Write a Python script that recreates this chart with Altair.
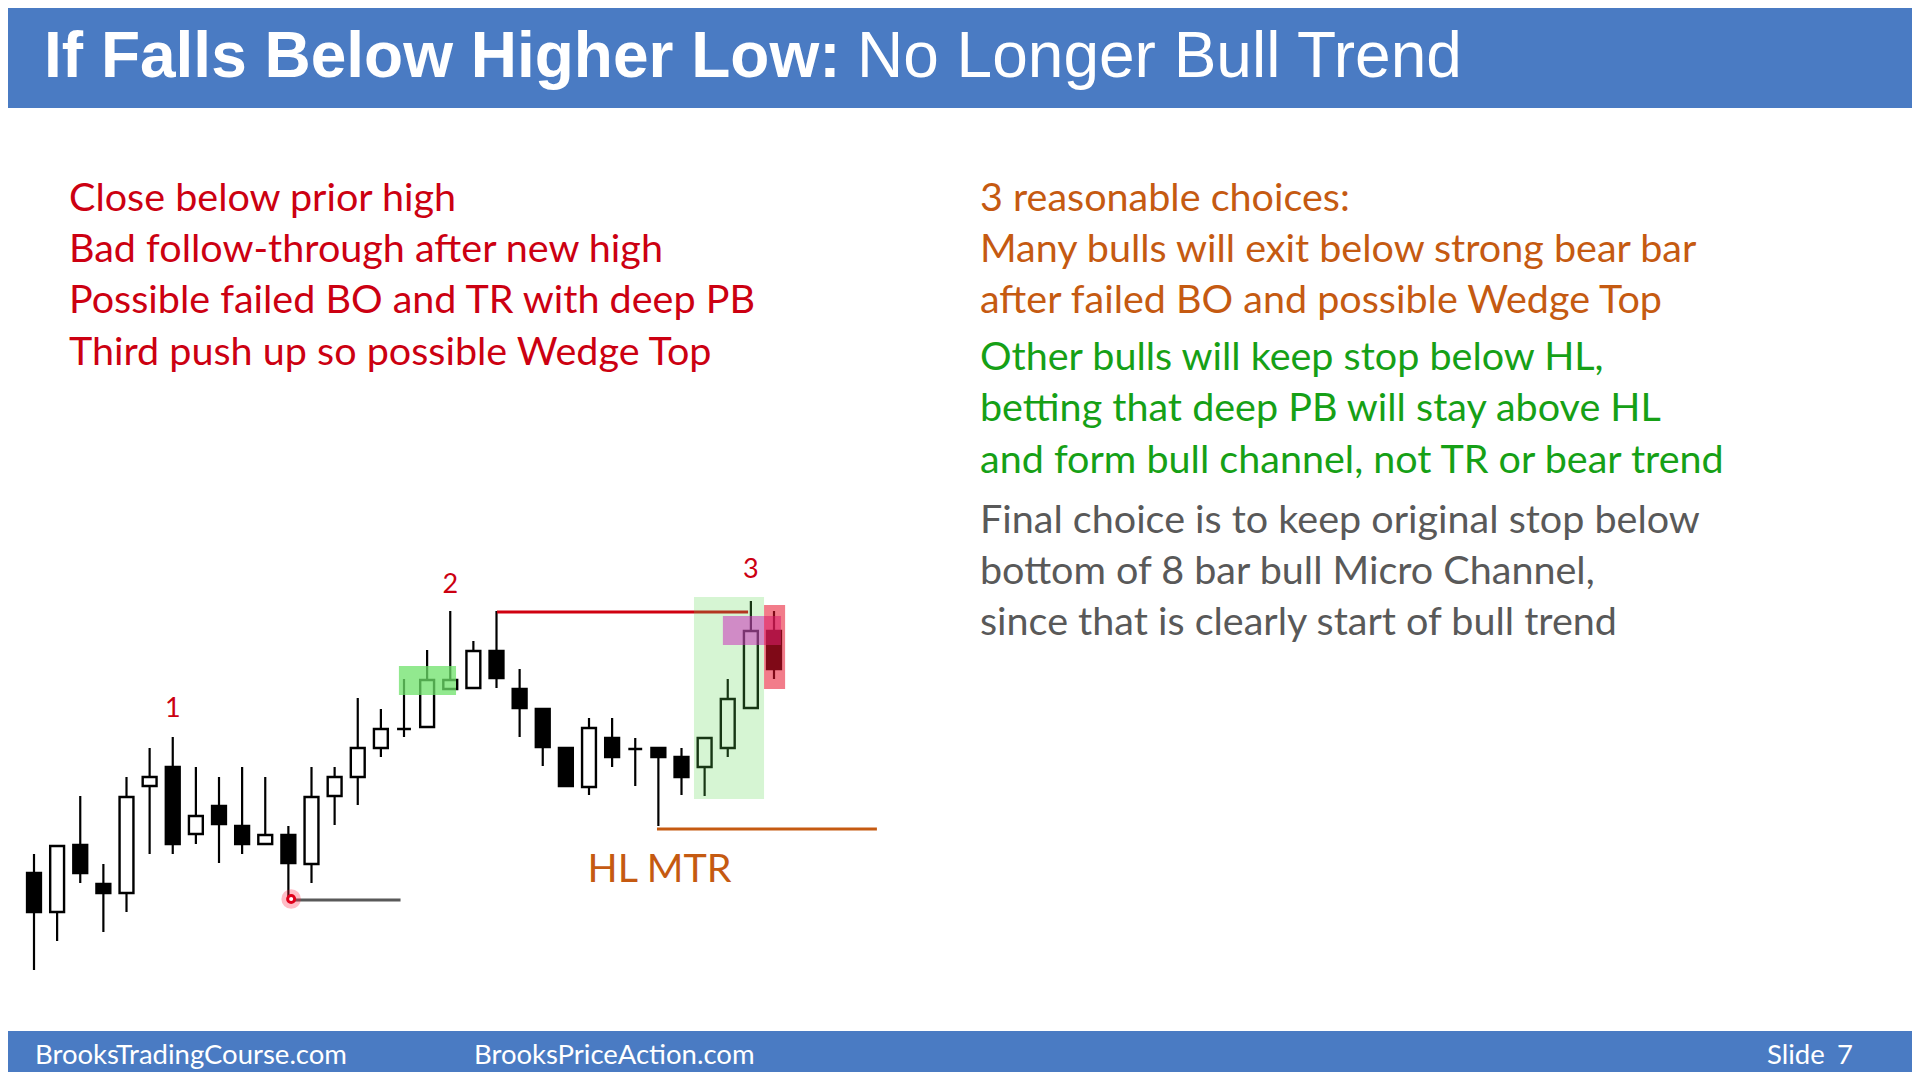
import altair as alt
import pandas as pd

# ---------------- data ----------------
bars = list(range(1, 34))
opens = [63.5, 44, 77.5, 58, 53.5, 107, 116.5, 83, 97, 87, 78, 82.5, 68, 102, 111.5,
         126, 135.5, 136.5, 155.5, 156, 174.5, 155.5, 145.5, 126, 106.5, 131, 125.5,
         126, 121.5, 116.5, 126, 146, 184.5]
highs = [73, 77, 102, 68, 111.5, 126, 131.5, 116.5, 111.5, 116.5, 111.5, 87, 116.5,
         116.5, 151, 145.5, 160.5, 175, 194.5, 179.5, 194.5, 165.5, 145.5, 126, 141,
         141, 131, 126, 126, 131, 160.5, 199.5, 194.5]
lows = [15, 29.5, 58.5, 34, 44, 73, 73, 78, 68.5, 73, 78, 50, 58.5, 87.5, 97.5, 121.5,
        131.5, 136.5, 155.5, 156, 156, 131.5, 117, 107, 102.5, 116.5, 107, 87, 102.5,
        102, 121.5, 146, 160.5]
closes = [44, 77, 63.5, 53.5, 101.5, 111.5, 78, 92, 88, 78, 82.5, 68.5, 101.5, 111.5,
          126, 135.5, 135.5, 160, 160, 174.5, 161, 146, 126.5, 107, 136, 121.5, 125.5,
          121.5, 111.5, 131, 150.5, 184.5, 165.5]

push_labels = ["1", "2", "3"]
push_bars = [7, 19, 32]
push_prices = [141.5, 203.5, 211]

# zones: [bar_from, bar_to, price_low, price_high]
zone_bo = [16.78, 19.25, 152.5, 167]
zone_micro = [29.54, 32.57, 100.5, 201.5]
zone_top = [30.79, 33.30, 177.5, 192]
zone_bear = [32.57, 33.48, 155.5, 197.5]

# horizontal levels: [bar_from, bar_to, price]
prior_high = [21.02, 31.88, 194]
hl_level = [27.94, 37.45, 85.5]
stop_level = [12.15, 16.85, 50]
stop_point = [12.12, 50.5]
hl_label = ["HL MTR", 28.05, 59]

title_bold = "If Falls Below Higher Low:"
title_rest = "No Longer Bull Trend"
left_lines = ["Close below prior high",
              "Bad follow-through after new high",
              "Possible failed BO and TR with deep PB",
              "Third push up so possible Wedge Top"]
orange_lines = ["3 reasonable choices:",
                "Many bulls will exit below strong bear bar",
                "after failed BO and possible Wedge Top"]
green_lines = ["Other bulls will keep stop below HL,",
               "betting that deep PB will stay above HL",
               "and form bull channel, not TR or bear trend"]
gray_lines = ["Final choice is to keep original stop below",
              "bottom of 8 bar bull Micro Channel,",
              "since that is clearly start of bull trend"]
footer_left = "BrooksTradingCourse.com"
footer_mid = "BrooksPriceAction.com"
footer_slide = "Slide"
footer_num = "7"

# ---------------- layout ----------------
W, H = 1904, 1064
BAR1_PX, STEP = 26.0, 23.125
xdom = [1 - BAR1_PX / STEP, 1 + (W - BAR1_PX) / STEP]
PRICE_TOP, PX_PER_PT = 496, 2.0
ydom = [PRICE_TOP - H / PX_PER_PT, PRICE_TOP]
xs = alt.Scale(domain=xdom, nice=False, zero=False)
ys = alt.Scale(domain=ydom, nice=False, zero=False)

BLUE = "#4A7BC3"
RED = "#CC0011"
ORANGE = "#C55A11"
GREEN = "#16A016"
GRAY = "#595959"
BODY_FONT = "Lato"
BODY_SIZE = 39.5
LH = 51.4

ohlc = pd.DataFrame(dict(bar=bars, open=opens, high=highs, low=lows, close=closes))
ohlc["dir"] = ["bull" if c > o else "bear" for o, c in zip(opens, closes)]
base = alt.Chart(ohlc)

X = lambda f: alt.X(f, type="quantitative", scale=xs, axis=None)
Y = lambda f: alt.Y(f, type="quantitative", scale=ys, axis=None)

wicks = base.mark_rule(color="black", strokeWidth=2.2).encode(
    x=X("bar"), y=Y("low"), y2="high")
bodies = base.transform_calculate(
    b0="datum.bar - 0.3", b1="datum.bar + 0.3"
).mark_rect(stroke="black", strokeWidth=2.4).encode(
    x=X("b0"), x2="b1", y=Y("open"), y2="close",
    fill=alt.Fill("dir:N", scale=alt.Scale(domain=["bull", "bear"],
                                           range=["white", "black"]), legend=None))


def zone(z, color, opacity):
    df = pd.DataFrame({"x0": [z[0]], "x1": [z[1]], "y0": [z[2]], "y1": [z[3]]})
    return alt.Chart(df).mark_rect(color=color, opacity=opacity).encode(
        x=X("x0"), x2="x1", y=Y("y0"), y2="y1")


def level(lv, color, width):
    df = pd.DataFrame({"x0": [lv[0]], "x1": [lv[1]], "p": [lv[2]]})
    return alt.Chart(df).mark_rule(color=color, strokeWidth=width).encode(
        x=X("x0"), x2="x1", y=Y("p"))


one = pd.DataFrame({"k": [0]})


def block(lines, x, y, color, size=BODY_SIZE, font=BODY_FONT, weight="normal", align="left"):
    return alt.Chart(one).mark_text(
        x=x, y=y, align=align, baseline="alphabetic", font=font, fontSize=size,
        fontWeight=weight, color=color, lineBreak="\n", lineHeight=LH
    ).encode(text=alt.value("\n".join(lines)))


def band(y0, y1):
    return alt.Chart(one).mark_rect(color=BLUE).encode(
        x=alt.value(0), x2=alt.value(W), y=alt.value(y0), y2=alt.value(y1))


labels_df = pd.DataFrame({"t": push_labels, "bar": push_bars, "p": push_prices})
labels = alt.Chart(labels_df).mark_text(
    font=BODY_FONT, fontSize=27, color=RED, baseline="alphabetic", align="center"
).encode(x=X("bar"), y=Y("p"), text="t:N")

hl_df = pd.DataFrame({"t": [hl_label[0]], "bar": [hl_label[1]], "p": [hl_label[2]]})
hl_text = alt.Chart(hl_df).mark_text(
    font=BODY_FONT, fontSize=BODY_SIZE, color=ORANGE, baseline="alphabetic", align="center"
).encode(x=X("bar"), y=Y("p"), text="t:N")

pt_df = pd.DataFrame({"bar": [stop_point[0]], "p": [stop_point[1]]})
glow = alt.Chart(pt_df).mark_circle(size=380, color="#FF2040", opacity=0.3).encode(
    x=X("bar"), y=Y("p"))
ring = alt.Chart(pt_df).mark_point(shape="circle", size=50, filled=True, fill="white",
                                   stroke="#E0001A", strokeWidth=3, opacity=1).encode(
    x=X("bar"), y=Y("p"))

chart = alt.layer(
    wicks, bodies,
    level(prior_high, "#D00010", 3.2),
    zone(zone_bo, "#6EE169", 0.75),
    zone(zone_micro, "#5AD750", 0.25),
    zone(zone_top, "#CC33BB", 0.55),
    zone(zone_bear, "#E8102A", 0.55),
    level(stop_level, "#595959", 3),
    level(hl_level, "#C55A11", 3),
    glow, ring, labels, hl_text,
    band(0, 100), band(1023, H),
    block([title_bold], 36, 69, "white", size=64, font="Liberation Sans", weight="bold"),
    block([title_rest], 849, 69, "white", size=64, font="Liberation Sans"),
    block(left_lines, 61, 202.6, RED),
    block(orange_lines, 972, 202.6, ORANGE),
    block(green_lines, 972, 361.8, GREEN),
    block(gray_lines, 972, 524.7, GRAY),
    block([footer_left], 27, 1055.7, "white", size=27.5),
    block([footer_mid], 466, 1055.7, "white", size=27.5),
    block([footer_slide], 1759, 1055.7, "white", size=27.5),
    block([footer_num], 1829, 1055.7, "white", size=27.5),
).properties(
    width=W, height=H, padding=0, autosize=alt.AutoSizeParams(type="none"),
    background="white"
).configure_view(stroke=None)

chart.save("out.html", embed_options={"renderer": "svg", "actions": False})
